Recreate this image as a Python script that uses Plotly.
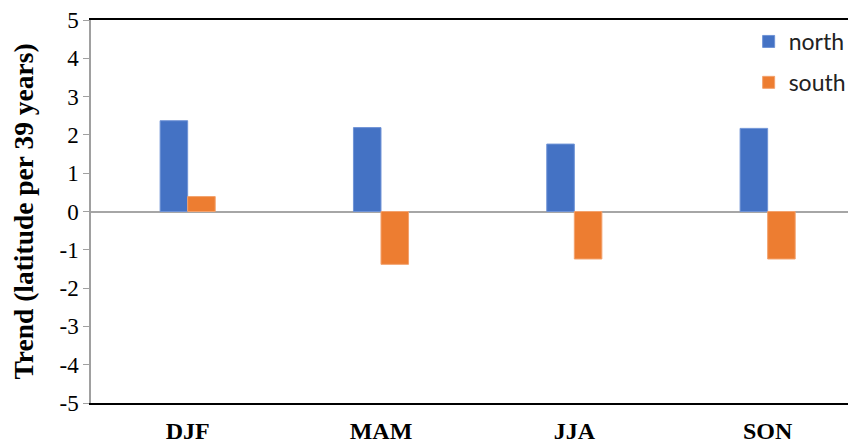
import plotly.graph_objects as go

seasons = ["DJF", "MAM", "JJA", "SON"]
north = [2.37, 2.19, 1.76, 2.17]
south = [0.39, -1.38, -1.24, -1.24]
y_ticks = [5, 4, 3, 2, 1, 0, -1, -2, -3, -4, -5]

fig = go.Figure()
fig.add_trace(go.Bar(x=seasons, y=north, name="north", marker_color="#4472C4",
                     marker_line=dict(color="#6F93D6", width=1), legendgroup="n"))
fig.add_trace(go.Bar(x=seasons, y=south, name="south", marker_color="#ED7D31",
                     marker_line=dict(color="#F3A26E", width=1), legendgroup="s"))

# page body has an 8px margin, so the figure is drawn 8px smaller and offset
fig.update_layout(
    width=848, height=436,
    margin=dict(l=83, r=0, t=12, b=41),
    plot_bgcolor="white", paper_bgcolor="white",
    barmode="group", bargap=0.715, bargroupgap=0,
    showlegend=True,
    legend=dict(x=0.993, y=1.0, xanchor="right", yanchor="top",
                font=dict(family="Lato, sans-serif", size=23, color="#222"),
                tracegroupgap=8, bgcolor="rgba(0,0,0,0)", itemwidth=30),
    xaxis=dict(range=[-0.5, 3.457], showline=True, linecolor="black", linewidth=1.5,
               mirror=True, ticks="", showgrid=False, automargin=False,
               tickfont=dict(family="Liberation Serif", size=24, color="black", weight="bold"),
               ticklabelstandoff=5),
    yaxis=dict(range=[-5, 5], tickvals=y_ticks, ticktext=[str(v) for v in y_ticks],
               showline=True, linecolor="#A0A0A0", linewidth=1.5, ticks="outside",
               ticklen=6, tickcolor="#A0A0A0", showgrid=False, automargin=False,
               zeroline=True, zerolinecolor="#A6A6A6", zerolinewidth=2,
               tickfont=dict(family="Liberation Serif", size=23, color="black"),
               title=dict(text="<b>Trend (latitude per 39 years)</b>", standoff=27,
                          font=dict(family="Liberation Serif", size=27.5, color="black"))),
)

fig.write_html("out.html")
